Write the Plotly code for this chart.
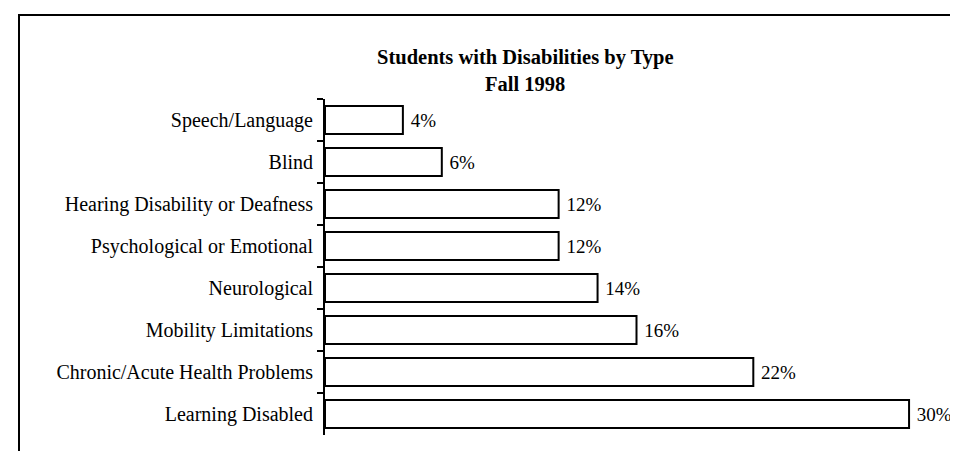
import plotly.graph_objects as go

categories = [
    "Speech/Language",
    "Blind",
    "Hearing Disability or Deafness",
    "Psychological or Emotional",
    "Neurological",
    "Mobility Limitations",
    "Chronic/Acute Health Problems",
    "Learning Disabled",
]
percents = [4, 6, 12, 12, 14, 16, 22, 30]
title_line1 = "Students with Disabilities by Type"
title_line2 = "Fall 1998"

W, H = 958, 451
ML, MR, MT, MB = 317, 18, 91, 24
PW = W - ML - MR
PH = H - MT - MB

def px_x(px):
    return (px - ML) / PW

def px_y(py):
    return (H - MB - py) / PH

FONT = "Liberation Serif"

fig = go.Figure(
    go.Bar(
        x=percents,
        y=categories,
        orientation="h",
        marker=dict(color="white", line=dict(color="black", width=2)),
        texttemplate=" %{x}%",
        textposition="outside",
        textfont=dict(family=FONT, size=19, color="black"),
        cliponaxis=False,
        width=0.67,
    )
)

fig.update_layout(
    width=W,
    height=H,
    margin=dict(l=ML, r=MR, t=MT, b=MB, pad=0),
    paper_bgcolor="white",
    plot_bgcolor="white",
    showlegend=False,
    font=dict(family=FONT, size=20, color="black"),
    xaxis=dict(
        range=[0, 32],
        visible=False,
    ),
    yaxis=dict(
        autorange="reversed",
        showline=True,
        linecolor="black",
        linewidth=2,
        ticks="outside",
        tickson="boundaries",
        ticklen=6,
        tickwidth=2,
        tickcolor="black",
        ticklabelstandoff=6,
        showgrid=False,
        tickfont=dict(family=FONT, size=20, color="black"),
    ),
    annotations=[
        dict(text="<b>%s</b>" % title_line1, x=px_x(517), y=px_y(49), xref="paper", yref="paper",
             showarrow=False, xanchor="center", yanchor="middle",
             font=dict(family=FONT, size=20.5, color="black")),
        dict(text="<b>%s</b>" % title_line2, x=px_x(517), y=px_y(76), xref="paper", yref="paper",
             showarrow=False, xanchor="center", yanchor="middle",
             font=dict(family=FONT, size=20.5, color="black")),
    ],
    shapes=[
        dict(type="line", xref="paper", yref="paper", x0=px_x(10), x1=px_x(960), y0=px_y(7), y1=px_y(7),
             line=dict(color="black", width=2)),
        dict(type="line", xref="paper", yref="paper", x0=px_x(11), x1=px_x(11), y0=px_y(7), y1=px_y(455),
             line=dict(color="black", width=2)),
    ],
)

fig.write_html("out.html")
